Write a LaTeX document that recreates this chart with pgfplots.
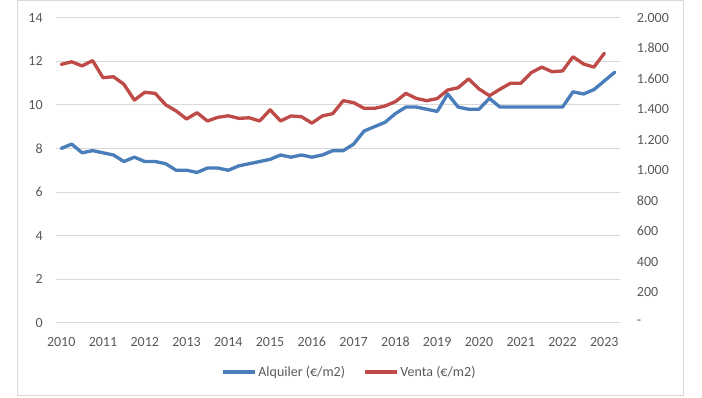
\documentclass[border=0pt]{standalone}
\usepackage{pgfplots}
\pgfplotsset{compat=1.18}
\usepackage{pgfplotstable}
\usepackage{fontspec}
\setmainfont{Carlito}
\definecolor{txt}{HTML}{595959}
\definecolor{gridc}{HTML}{D9D9D9}
\definecolor{blueS}{HTML}{4A7EBB}
\definecolor{redS}{HTML}{BE4B48}

\pgfplotstableread{
x y
2010.00 8.0
2010.25 8.2
2010.50 7.8
2010.75 7.9
2011.00 7.8
2011.25 7.7
2011.50 7.4
2011.75 7.6
2012.00 7.4
2012.25 7.4
2012.50 7.3
2012.75 7.0
2013.00 7.0
2013.25 6.9
2013.50 7.1
2013.75 7.1
2014.00 7.0
2014.25 7.2
2014.50 7.3
2014.75 7.4
2015.00 7.5
2015.25 7.7
2015.50 7.6
2015.75 7.7
2016.00 7.6
2016.25 7.7
2016.50 7.9
2016.75 7.9
2017.00 8.2
2017.25 8.8
2017.50 9.0
2017.75 9.2
2018.00 9.6
2018.25 9.9
2018.50 9.9
2018.75 9.8
2019.00 9.7
2019.25 10.5
2019.50 9.9
2019.75 9.8
2020.00 9.8
2020.25 10.3
2020.50 9.9
2020.75 9.9
2021.00 9.9
2021.25 9.9
2021.50 9.9
2021.75 9.9
2022.00 9.9
2022.25 10.6
2022.50 10.5
2022.75 10.7
2023.00 11.1
2023.25 11.5
}\alquiler

\pgfplotstableread{
x y
2010.00 1694
2010.25 1711
2010.50 1684
2010.75 1719
2011.00 1607
2011.25 1613
2011.50 1564
2011.75 1460
2012.00 1511
2012.25 1504
2012.50 1429
2012.75 1389
2013.00 1336
2013.25 1377
2013.50 1323
2013.75 1347
2014.00 1357
2014.25 1340
2014.50 1344
2014.75 1323
2015.00 1396
2015.25 1323
2015.50 1356
2015.75 1351
2016.00 1309
2016.25 1356
2016.50 1371
2016.75 1456
2017.00 1443
2017.25 1406
2017.50 1406
2017.75 1421
2018.00 1450
2018.25 1504
2018.50 1471
2018.75 1456
2019.00 1470
2019.25 1526
2019.50 1541
2019.75 1599
2020.00 1533
2020.25 1489
2020.50 1531
2020.75 1570
2021.00 1570
2021.25 1640
2021.50 1676
2021.75 1646
2022.00 1651
2022.25 1744
2022.50 1697
2022.75 1676
2023.00 1767
}\venta

\begin{document}
\begin{tikzpicture}
\useasboundingbox (0,0) rectangle (526.5pt,297.75pt);
\draw[gridc, line width=0.75pt] (12.75pt,1.5pt) rectangle (512.25pt,297pt);
\pgfplotsset{
  common/.style={
    at={(42pt,55.7pt)}, anchor=south west,
    scale only axis, width=423pt, height=228.75pt,
    xmin=2009.875, xmax=2023.375,
    axis line style={draw=none},
    major tick length=0pt,
    tick style={draw=none},
    ticklabel style={font=\fontsize{10.5}{12.5}\selectfont, text=txt},
    clip=false,
  }
}
\begin{axis}[common,
  ymin=0, ymax=14,
  ytick={0,2,4,6,8,10,12,14},
  yticklabels={0,2,4,6,8,10,12,14},
  yticklabel style={xshift=-6.5pt},
  xtick={2010,...,2023},
  xticklabels={2010,2011,2012,2013,2014,2015,2016,2017,2018,2019,2020,2021,2022,2023},
  xticklabel style={yshift=-7.2pt},
  ymajorgrids, grid style={gridc, line width=0.75pt},
  legend columns=2,
  legend style={at={(0.52,-0.162)}, anchor=center, draw=none, fill=none,
    font=\fontsize{10.5}{12.5}\selectfont, text=txt,
    nodes={inner xsep=1pt},
    /tikz/every even column/.append style={column sep=13pt},
    inner sep=0pt},
  legend cell align=left,
  legend image code/.code={\draw[#1, line cap=butt] (0pt,0pt) -- (24pt,0pt);},
]
\addplot[blueS, line width=2.5pt, line join=round, line cap=round] table[x=x,y=y] {\alquiler};
\addlegendentry{Alquiler (€/m2)}
\addlegendimage{redS, line width=2.5pt}
\addlegendentry{Venta (€/m2)}
\end{axis}
\begin{axis}[common,
  ymin=0, ymax=2000,
  axis x line=none,
  xtick=\empty,
  yticklabel pos=right,
  ytick={0,200,400,600,800,1000,1200,1400,1600,1800,2000},
  yticklabels={-,200,400,600,800,1.000,1.200,1.400,1.600,1.800,2.000},
  yticklabel style={anchor=west, xshift=9.2pt},
]
\addplot[redS, line width=2.5pt, line join=round, line cap=round] table[x=x,y=y] {\venta};
\end{axis}
\end{tikzpicture}
\end{document}
